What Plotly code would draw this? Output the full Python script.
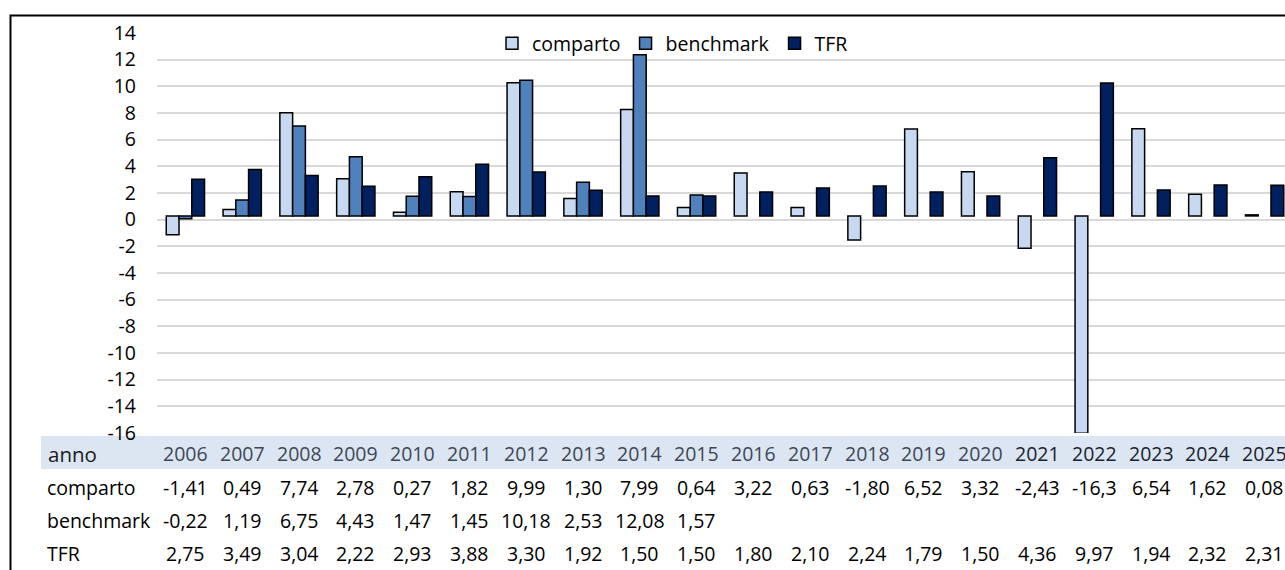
import plotly.graph_objects as go

# ---------------- data ----------------
years = [2006, 2007, 2008, 2009, 2010, 2011, 2012, 2013, 2014, 2015,
         2016, 2017, 2018, 2019, 2020, 2021, 2022, 2023, 2024, 2025]
comparto = [-1.41, 0.49, 7.74, 2.78, 0.27, 1.82, 9.99, 1.30, 7.99, 0.64,
            3.22, 0.63, -1.80, 6.52, 3.32, -2.43, -16.3, 6.54, 1.62, 0.08]
benchmark = [-0.22, 1.19, 6.75, 4.43, 1.47, 1.45, 10.18, 2.53, 12.08, 1.57,
             None, None, None, None, None, None, None, None, None, None]
tfr = [2.75, 3.49, 3.04, 2.22, 2.93, 3.88, 3.30, 1.92, 1.50, 1.50,
       1.80, 2.10, 2.24, 1.79, 1.50, 4.36, 9.97, 1.94, 2.32, 2.31]
series_names = ["comparto", "benchmark", "TFR"]
y_ticks = [-16, -14, -12, -10, -8, -6, -4, -2, 0, 2, 4, 6, 8, 10, 12, 14]
y_tick_labels = ["-16", "-14", "-12", "-10", "-8", "-6", "-4", "-2",
                 "0", "2", "4", "6", "8", "10", "12", "14"]
year_labels = [str(y) for y in years]
header_label = "anno"

# ---------------- style / geometry ----------------
W, H = 1285, 570
L, T = 157, 33          # plot-area left / top (px)
PB = 433                # plot-area bottom (px)
PW, PH = W - L, PB - T
COL_W = 56.8            # px per year
BAR_SHIFT = 0.28        # visual baseline shift seen in the reference
FONT = "Open Sans"
FS = 19.5
colors = ["#C6D9F1", "#4F81BD", "#002060"]


def px_x(px):
    return (px - L) / PW


def px_y(py):
    return (PB - py) / PH


def fmt(v):
    s = f"{v:.2f}"
    if len(s) > 5:
        s = f"{v:.1f}"
    return s.replace(".", ",")


fig = go.Figure()
for name, vals, col in zip(series_names, [comparto, benchmark, tfr], colors):
    fig.add_trace(go.Bar(
        x=years, y=vals, name=name, base=BAR_SHIFT,
        marker=dict(color=col, line=dict(color="#000000", width=1.5)),
    ))

annotations = []
# header row: "anno" + years
HEADER_Y = 453
annotations.append(dict(xref="paper", yref="paper", x=px_x(46), y=px_y(HEADER_Y + 1),
                        text=header_label, showarrow=False, xanchor="left",
                        yanchor="middle",
                        font=dict(family=FONT, size=FS + 1, color="#1a1a1a")))
for yr, lab in zip(years, year_labels):
    annotations.append(dict(xref="x", yref="paper", x=yr, y=px_y(HEADER_Y),
                            text=lab, showarrow=False, xanchor="center",
                            yanchor="middle",
                            font=dict(family=FONT, size=FS,
                                      color="#3E4756" if yr <= 2020 else "#1B2130")))

# table rows (values under each year)
row_y = {"comparto": 487, "benchmark": 520, "TFR": 553}
for name, vals in zip(series_names, [comparto, benchmark, tfr]):
    annotations.append(dict(xref="paper", yref="paper", x=px_x(45), y=px_y(row_y[name]),
                            text=name, showarrow=False, xanchor="left", yanchor="middle",
                            font=dict(family=FONT, size=FS, color="#000000")))
    for yr, v in zip(years, vals):
        if v is None:
            continue
        annotations.append(dict(xref="x", yref="paper", x=yr, y=px_y(row_y[name]),
                                text=fmt(v), showarrow=False, xanchor="center",
                                yanchor="middle",
                                font=dict(family=FONT, size=FS, color="#000000")))

shapes = [
    # light-blue header band of the data table
    dict(type="rect", xref="paper", yref="paper", x0=px_x(41), x1=px_x(W + 20),
         y0=px_y(469), y1=px_y(436), fillcolor="#DCE6F2", line=dict(width=0),
         layer="below"),
    # chart frame
    dict(type="rect", xref="paper", yref="paper", x0=px_x(10.5), x1=px_x(W + 30),
         y0=px_y(H + 30), y1=px_y(15.5), line=dict(color="#000000", width=2),
         fillcolor="rgba(0,0,0,0)"),
]

fig.update_layout(
    width=W, height=H,
    margin=dict(l=L, r=0, t=T, b=H - PB, pad=0),
    paper_bgcolor="white", plot_bgcolor="white",
    barmode="group", bargap=0.326, bargroupgap=0,
    font=dict(family=FONT, size=FS, color="#000000"),
    showlegend=True,
    legend=dict(orientation="h", x=px_x(492), y=px_y(24), xanchor="left", yanchor="top",
                bgcolor="rgba(0,0,0,0)", font=dict(family=FONT, size=FS),
                itemclick=False, traceorder="normal"),
    xaxis=dict(range=[years[0] - 0.5, years[0] - 0.5 + PW / COL_W],
               tickvals=years, showticklabels=False, showgrid=False, zeroline=False,
               showline=False, ticks=""),
    yaxis=dict(range=[-16, 14], tickvals=y_ticks, ticktext=y_tick_labels,
               showgrid=True, gridcolor="#D9D9D9", gridwidth=1.5, zeroline=False,
               showline=False, ticks="", ticklabelstandoff=20,
               tickfont=dict(family=FONT, size=FS, color="#000000")),
    annotations=annotations,
    shapes=shapes,
)

fig.write_html("out.html", config={"displayModeBar": False},
               post_script="document.body.style.margin='0';document.body.style.overflow='hidden';")
